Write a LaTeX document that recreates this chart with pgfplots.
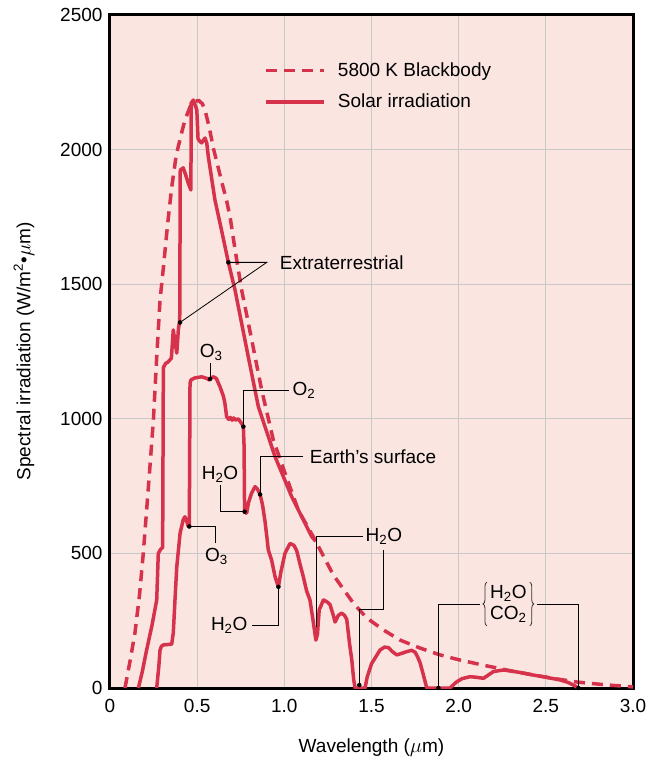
\documentclass[border=0pt]{standalone}
\usepackage{fontspec}
\setmainfont{Liberation Sans}
\usepackage{pgfplots}
\pgfplotsset{compat=1.18}
\usetikzlibrary{calc,decorations.pathreplacing}
\definecolor{curve}{RGB}{215,50,75}
\definecolor{bg}{RGB}{250,229,225}
\definecolor{gridc}{RGB}{200,200,200}
\newcommand{\fs}{\fontsize{19bp}{23bp}\selectfont}
\newcommand{\HtwoO}{H\textsubscript{2}O}
\begin{document}
\begin{tikzpicture}[font=\fs]
\begin{axis}[
  name=main,
  scale only axis, width=523bp, height=673bp,
  xmin=0, xmax=3, ymin=0, ymax=2500,
  xtick={0,0.5,1,1.5,2,2.5,3},
  xticklabels={0,0.5,1.0,1.5,2.0,2.5,3.0},
  ytick={0,500,1000,1500,2000,2500},
  yticklabels={0,500,1000,1500,2000,2500},
  grid=major,
  major grid style={gridc, line width=1.3bp},
  major tick length=0pt,
  axis background/.style={fill=bg},
  axis line style={line width=3bp, black},
  tick label style={font=\fs},
  xticklabel style={yshift=-8bp},
  yticklabel style={xshift=-4bp},
  xlabel={Wavelength ($\mu$m)},
  ylabel={Spectral irradiation (W/m\textsuperscript{2}•$\mu$m)},
  label style={font=\fs},
  xlabel style={at={(axis description cs:0.5,-0.0892)}, anchor=center},
  ylabel style={at={(axis description cs:-0.1644,0.5)}, anchor=center},
  legend style={draw=none, fill=none, at={(0.295,0.932)}, anchor=north west,
    inner sep=0pt, row sep=12bp, font=\fs,
    /tikz/every odd column/.append style={column sep=10bp}},
  legend image code/.code={\draw[#1] (0bp,0bp) -- (58bp,0bp);},
  legend cell align=left,
]
% 5800 K blackbody
\addplot[curve, line width=3.5bp, dash pattern=on 11bp off 7bp] coordinates {
(0.086,0) (0.115,100) (0.143,204) (0.17,350) (0.191,501) (0.21,660) (0.229,821)
(0.249,996) (0.268,1230) (0.287,1441) (0.306,1560) (0.33,1720) (0.354,1860)
(0.38,1980) (0.41,2060) (0.43,2110) (0.46,2160) (0.49,2180) (0.51,2182)
(0.53,2170) (0.545,2147) (0.57,2080) (0.593,2005) (0.62,1935) (0.645,1870)
(0.669,1810) (0.69,1745) (0.717,1630) (0.755,1479) (0.813,1293) (0.870,1107)
(0.937,921) (1.004,798) (1.080,661) (1.176,550) (1.281,420) (1.396,315)
(1.473,260) (1.57,215) (1.664,178) (1.78,148) (1.893,123) (2.0,105) (2.14,85)
(2.29,65) (2.43,48) (2.56,34) (2.68,22) (2.84,12) (3.0,4)
};
\addlegendentry{5800 K Blackbody}
% Extraterrestrial solar irradiation
\addplot[curve, line width=3.5bp, line join=round] coordinates {
(0.163,0) (0.185,60) (0.21,141) (0.24,230) (0.268,327) (0.277,500) (0.29,515)
(0.302,522) (0.306,1190) (0.318,1205) (0.333,1211) (0.352,1225) (0.363,1330)
(0.372,1290) (0.383,1244) (0.392,1330) (0.4,1367) (0.403,1924) (0.42,1932)
(0.434,1906) (0.449,1875) (0.464,1850) (0.466,2173) (0.478,2184) (0.498,2147)
(0.505,2040) (0.516,2030) (0.526,2025) (0.545,2043) (0.555,2024) (0.564,1974)
(0.602,1813) (0.64,1700) (0.679,1581) (0.717,1479) (0.793,1231) (0.851,1045)
(0.947,859) (1.042,711) (1.157,562) (1.18,545)
};
\addlegendentry{Solar irradiation}
% Earth's surface
\addplot[curve, line width=3.5bp, line join=round, forget plot] coordinates {
(0.268,0) (0.28,80) (0.287,141) (0.295,155) (0.306,160) (0.354,163) (0.363,204)
(0.373,330) (0.383,450) (0.402,575) (0.42,625) (0.43,636) (0.44,620) (0.449,600)
(0.455,605) (0.459,1133) (0.465,1145) (0.488,1152) (0.526,1156) (0.555,1150)
(0.57,1144) (0.58,1152) (0.593,1156) (0.61,1150) (0.631,1119) (0.65,1085)
(0.659,1058) (0.669,1008) (0.68,998) (0.69,1005) (0.70,995) (0.71,1003)
(0.72,995) (0.735,1000) (0.755,983) (0.765,971) (0.769,900) (0.772,661)
(0.778,650) (0.784,650) (0.795,690) (0.813,725) (0.832,748) (0.845,740)
(0.861,719) (0.875,680) (0.889,620) (0.9,560) (0.908,513) (0.927,475)
(0.947,413) (0.966,376) (0.98,430) (1.004,501) (1.033,537) (1.055,530)
(1.071,510) (1.09,460) (1.109,413) (1.128,360) (1.147,327) (1.165,250)
(1.181,178) (1.19,200) (1.2,290) (1.224,327) (1.245,320) (1.262,310)
(1.281,270) (1.291,245) (1.31,270) (1.329,278) (1.345,270) (1.358,255)
(1.375,160) (1.387,104) (1.398,30) (1.406,0) (1.463,0) (1.475,40) (1.5,90)
(1.549,141) (1.575,152) (1.597,150) (1.62,135) (1.645,123) (1.67,128)
(1.702,135) (1.73,140) (1.75,133) (1.765,115) (1.779,93) (1.795,55)
(1.807,25) (1.817,0) (1.951,0) (1.975,15) (1.989,23) (2.02,35) (2.065,42)
(2.1,40) (2.142,36) (2.17,48) (2.199,61) (2.257,67) (2.35,58) (2.429,48)
(2.5,40) (2.582,30) (2.63,20) (2.658,11) (2.687,0)
};
% leader lines
\addplot[black, line width=0.8bp, forget plot] coordinates {(0.402,1358) (0.899,1581) (0.679,1581)};
\addplot[black, line width=0.8bp, forget plot] coordinates {(0.574,1148) (0.574,1207)};
\addplot[black, line width=0.8bp, forget plot] coordinates {(0.765,971) (0.765,1107) (1.027,1107)};
\addplot[black, line width=0.8bp, forget plot] coordinates {(0.631,754) (0.631,655) (0.772,655)};
\addplot[black, line width=0.8bp, forget plot] coordinates {(0.861,719) (0.861,859) (1.109,859)};
\addplot[black, line width=0.8bp, forget plot] coordinates {(0.455,600) (0.602,600) (0.602,537)};
\addplot[black, line width=0.8bp, forget plot] coordinates {(0.966,376) (0.966,234) (0.813,234)};
\addplot[black, line width=0.8bp, forget plot] coordinates {(1.182,228) (1.182,562) (1.453,562)};
\addplot[black, line width=0.8bp, forget plot] coordinates {(1.43,11) (1.43,292) (1.568,292) (1.568,513)};
\addplot[black, line width=0.8bp, forget plot] coordinates {(1.884,0) (1.884,312) (2.123,312)};
\addplot[black, line width=0.8bp, forget plot] coordinates {(2.448,312) (2.687,312) (2.687,0)};
% dots
\addplot[only marks, mark=*, mark size=2bp, black, forget plot] coordinates {
(0.402,1358) (0.679,1581) (0.574,1148) (0.765,971) (0.772,655) (0.861,719)
(0.455,600) (0.966,376) (1.43,11) (1.884,0) (2.687,0)
};
% labels
\node[anchor=west, inner sep=1bp] at (axis cs:0.968,1581) {Extraterrestrial};
\node[anchor=south, inner sep=1bp] at (axis cs:0.58,1212) {O\textsubscript{3}};
\node[anchor=west, inner sep=1bp] at (axis cs:1.04,1107) {O\textsubscript{2}};
\node[anchor=south, inner sep=1bp] at (axis cs:0.631,760) {\HtwoO};
\node[anchor=west, inner sep=1bp] at (axis cs:1.14,859) {Earth's surface};
\node[anchor=north, inner sep=1bp] at (axis cs:0.61,525) {O\textsubscript{3}};
\node[anchor=east, inner sep=1bp] at (axis cs:0.795,234) {\HtwoO};
\node[anchor=west, inner sep=1bp] at (axis cs:1.46,562) {\HtwoO};
\node[inner xsep=4bp, inner ysep=3bp, align=center] (hc) at (axis cs:2.285,312) {\HtwoO\\[-2bp]CO\textsubscript{2}};
\draw[decorate, decoration={brace, amplitude=4bp}, line width=0.8bp, black!80]
  ($(hc.south west)+(1bp,0)$) -- ($(hc.north west)+(1bp,0)$);
\draw[decorate, decoration={brace, amplitude=4bp}, line width=0.8bp, black!80]
  ($(hc.north east)+(-1bp,0)$) -- ($(hc.south east)+(-1bp,0)$);
\end{axis}
\pgfresetboundingbox
\path[use as bounding box] ($(main.south west)+(-110bp,-76bp)$) rectangle ($(main.north east)+(19bp,15bp)$);
\end{tikzpicture}
\end{document}
